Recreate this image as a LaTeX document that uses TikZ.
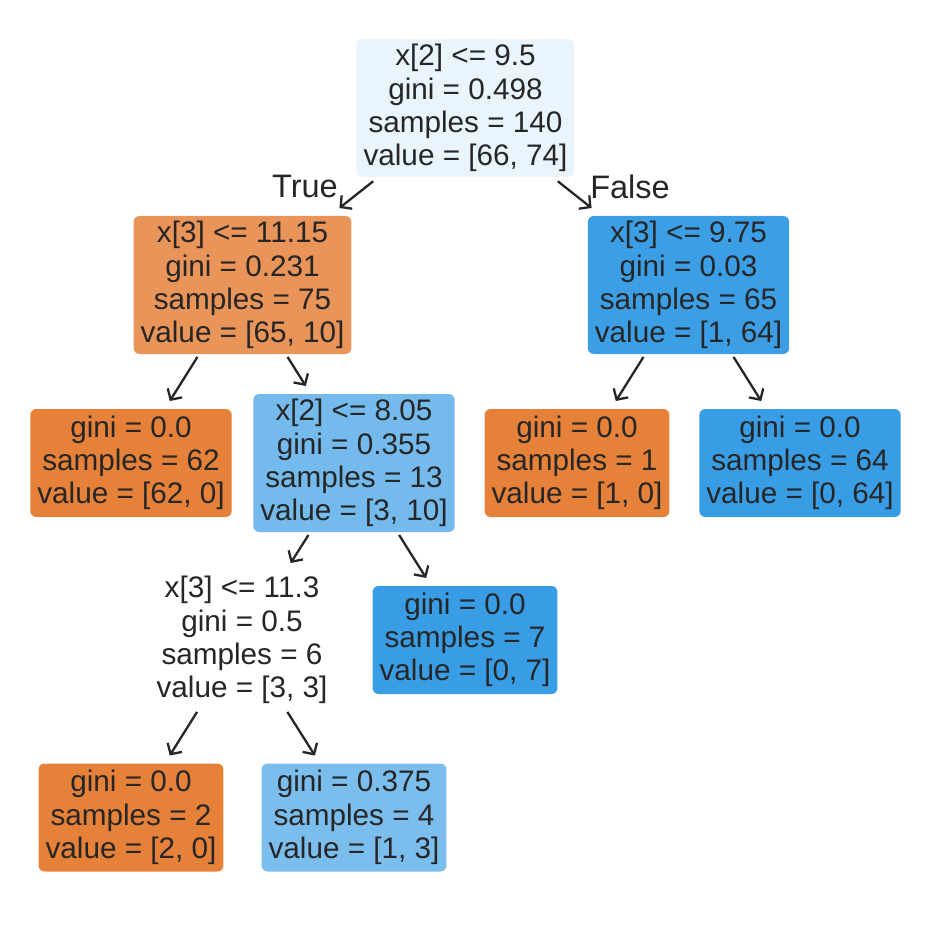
\documentclass[tikz,border=0pt]{standalone}
\usepackage{fontspec}
\setmainfont{Liberation Sans}
\usetikzlibrary{arrows.meta}

\definecolor{ink}{HTML}{262626}
\definecolor{orgfull}{HTML}{E58139}
\definecolor{orgpale}{HTML}{E99458}
\definecolor{blufull}{HTML}{399DE5}
\definecolor{bluroot}{HTML}{EAF4FC}
\definecolor{bluhigh}{HTML}{3C9EE5}
\definecolor{blumid}{HTML}{74BAED}
\definecolor{blulow}{HTML}{7BBEEE}

\begin{document}
\begin{tikzpicture}[x=0.5pt,y=-0.5pt,
	>={Straight Barb[length=4pt,width=8.5pt]},
	box/.style={rectangle,rounded corners=3pt,align=center,text=ink,
		font=\fontsize{14.85}{16.65}\selectfont,
		inner xsep=3.5pt,inner ysep=0pt,outer xsep=0pt,outer ysep=4pt},
	split/.style={box,minimum height=69pt},
	leaf/.style={box,minimum height=54pt},
	edge/.style={->,line width=1.15pt,draw=ink,shorten <=-3pt},
	side/.style={text=ink,font=\fontsize{16.25}{19}\selectfont,inner sep=0pt}]

\useasboundingbox (0,0) rectangle (931,925);

\node[split,fill=bluroot] (root) at (465.5,108) {x[2] <= 9.5\\gini = 0.498\\samples = 140\\value = [66, 74]};

\node[split,fill=orgpale] (l) at (242.5,285) {x[3] <= 11.15\\gini = 0.231\\samples = 75\\value = [65, 10]};
\node[split,fill=bluhigh] (r) at (688.5,285) {x[3] <= 9.75\\gini = 0.03\\samples = 65\\value = [1, 64]};

\node[leaf,fill=orgfull] (ll) at (131,463) {gini = 0.0\\samples = 62\\value = [62, 0]};
\node[split,fill=blumid] (lr) at (354,463) {x[2] <= 8.05\\gini = 0.355\\samples = 13\\value = [3, 10]};
\node[leaf,fill=orgfull] (rl) at (577,463) {gini = 0.0\\samples = 1\\value = [1, 0]};
\node[leaf,fill=blufull] (rr) at (800,463) {gini = 0.0\\samples = 64\\value = [0, 64]};

\node[split,fill=white] (lrl) at (242,640) {x[3] <= 11.3\\gini = 0.5\\samples = 6\\value = [3, 3]};
\node[leaf,fill=blufull] (lrr) at (465,640) {gini = 0.0\\samples = 7\\value = [0, 7]};

\node[leaf,fill=orgfull] (lrll) at (131,817.5) {gini = 0.0\\samples = 2\\value = [2, 0]};
\node[leaf,fill=blulow] (lrlr) at (354,817.5) {gini = 0.375\\samples = 4\\value = [1, 3]};

\foreach \p/\c in {root/l,root/r,l/ll,l/lr,r/rl,r/rr,lr/lrl,lr/lrr,lrl/lrll,lrl/lrlr}{
	\draw[edge] (\p) -- (\c);
}

\node[side] (yes) at (305,186.5) {True};
\node[side] (no) at (630,186.5) {False};

\end{tikzpicture}
\end{document}
